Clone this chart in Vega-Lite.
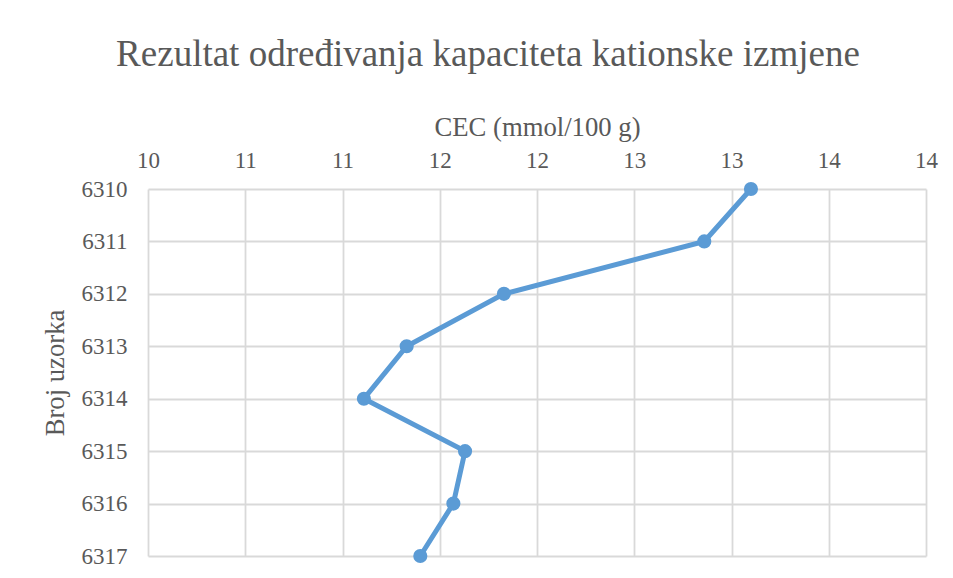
{
  "$schema": "https://vega.github.io/schema/vega-lite/v6.json",
  "autosize": {"type": "none"},
  "padding": {"left": 148, "top": 189, "right": 27, "bottom": 22},
  "width": 778,
  "height": 367,
  "background": "white",
  "title": {
    "text": "Rezultat određivanja kapaciteta kationske izmjene",
    "font": "Liberation Serif, Times New Roman, serif",
    "fontSize": 37,
    "fontWeight": "normal",
    "color": "#595959",
    "anchor": "middle",
    "dx": -49,
    "offset": 40
  },
  "data": {
    "values": [
      {"uzorak": 6310, "cec": 13.10},
      {"uzorak": 6311, "cec": 12.86},
      {"uzorak": 6312, "cec": 11.83},
      {"uzorak": 6313, "cec": 11.33},
      {"uzorak": 6314, "cec": 11.11},
      {"uzorak": 6315, "cec": 11.63},
      {"uzorak": 6316, "cec": 11.57},
      {"uzorak": 6317, "cec": 11.40}
    ]
  },
  "config": {
    "font": "Liberation Serif, Times New Roman, serif",
    "view": {"stroke": null},
    "axis": {
      "labelFont": "Liberation Serif, Times New Roman, serif",
      "titleFont": "Liberation Serif, Times New Roman, serif",
      "labelColor": "#595959",
      "titleColor": "#595959",
      "labelFontSize": 23,
      "titleFontSize": 26.7,
      "titleFontWeight": "normal",
      "gridColor": "#D9D9D9",
      "gridWidth": 1.8,
      "gridOpacity": 1,
      "domain": false,
      "ticks": false
    }
  },
  "mark": {
    "type": "line",
    "color": "#5B9BD5",
    "strokeWidth": 5,
    "clip": false,
    "point": {"filled": true, "size": 200, "color": "#5B9BD5", "opacity": 1}
  },
  "encoding": {
    "order": {"field": "uzorak", "type": "quantitative"},
    "x": {
      "field": "cec",
      "type": "quantitative",
      "title": "CEC (mmol/100 g)",
      "scale": {"domain": [10, 14], "nice": false, "zero": false},
      "axis": {
        "orient": "top",
        "values": [10, 10.5, 11, 11.5, 12, 12.5, 13, 13.5, 14],
        "labelExpr": "format(round(datum.value), 'd')",
        "labelPadding": 17,
        "titlePadding": 8,
        "labelFlush": false,
        "labelOverlap": false
      }
    },
    "y": {
      "field": "uzorak",
      "type": "quantitative",
      "title": "Broj uzorka",
      "scale": {"domain": [6310, 6317], "reverse": true, "nice": false, "zero": false},
      "axis": {
        "values": [6310, 6311, 6312, 6313, 6314, 6315, 6316, 6317],
        "format": "d",
        "labelPadding": 21,
        "titlePadding": 12,
        "labelFlush": false,
        "labelOverlap": false
      }
    }
  }
}
